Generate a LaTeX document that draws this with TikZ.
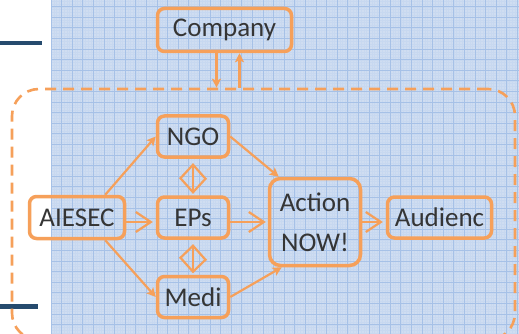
\documentclass[tikz,border=0pt]{standalone}
\usepackage{fontspec}
\setmainfont{Carlito}
\usetikzlibrary{arrows.meta}
\definecolor{paper}{HTML}{CFDDF1}
\definecolor{gridline}{HTML}{A6C1E7}
\definecolor{fineline}{HTML}{C7D8F0}
\definecolor{orangeline}{HTML}{F6A05A}
\definecolor{barblue}{HTML}{264B6E}
\definecolor{ink}{HTML}{353535}
\tikzset{
  box/.style={draw=orangeline, line width=3.5pt, rounded corners=7pt, text=ink,
    font=\fontsize{27}{30}\selectfont, inner sep=0pt, minimum height=41pt},
  link/.style={draw=orangeline, line width=2.2pt, -{Stealth[length=9pt,width=9pt,inset=2pt]}},
  chev/.style={draw=orangeline, line width=2.2pt, -{Straight Barb[length=15pt,width=20pt]}},
  twoway/.style={draw=orangeline, line width=2.2pt, line join=miter},
  field/.style={draw=orangeline, line width=2.6pt, dash pattern=on 11pt off 7pt,
    rounded corners=27pt, inner sep=0pt},
}
\begin{document}
\begin{tikzpicture}[x=1pt,y=-1pt]
	\useasboundingbox (0,0) rectangle (519,334);
	\clip (0,0) rectangle (519,334);
	% squared paper
	\fill[white] (0,0) rectangle (519,334);
	\fill[paper] (51,0) rectangle (519,334);
	\foreach \k in {0,...,186}
		\draw[fineline,line width=0.25pt] (51+\k*2.65,0) -- (51+\k*2.65,334);
	\foreach \k in {0,...,126}
		\draw[fineline,line width=0.25pt] (51,\k*2.65+1.4) -- (519,\k*2.65+1.4);
	\foreach \k in {0,...,44}
		\draw[gridline,line width=0.9pt] (51+\k*10.6,0) -- (51+\k*10.6,334);
	\foreach \k in {0,...,31}
		\draw[gridline,line width=0.9pt] (51,6.7+\k*10.6) -- (519,6.7+\k*10.6);
	% bars on the left
	\fill[barblue] (0,41) rectangle (42,45.5);
	\fill[barblue] (0,304) rectangle (38,308.5);
	% dashed frame
	\node[field, minimum width=503pt, minimum height=251pt] (frame) at (263.5,214.5) {};
	% boxes
	\node[box, minimum width=134pt, minimum height=43pt] (company) at (224.5,30) {Company};
	\node[box, minimum width=71pt] (ngo) at (193,136.5) {NGO};
	\node[box, minimum width=71pt] (eps) at (193,217.5) {EPs};
	\node[box, minimum width=71pt] (medi) at (193,297) {Medi};
	\node[box, minimum width=95pt, minimum height=42pt] (aiesec) at (77,217.5) {AIESEC};
	\node[box, minimum width=91pt, minimum height=87pt, rounded corners=11pt, align=center,
		font=\fontsize{27}{40}\selectfont] (action) at (315,222) {Action\\NOW!};
	\node[box, minimum width=104pt] (audienc) at (439.5,217.5) {Audienc};
	% company and the frame
	\draw[link] ([xshift=-8pt]company.south) -- ([xshift=-8pt]company.south |- frame.north);
	\draw[link] ([xshift=15pt]company.south |- frame.north) -- ([xshift=15pt]company.south);
	% connectors
	\draw[link] ([xshift=-21pt]aiesec.north east) -- (ngo.west);
	\draw[link] ([xshift=-21pt]aiesec.south east) -- (medi.west);
	\draw[chev, shorten >=3pt] (aiesec.east |- action) -- (eps.west |- action);
	\draw[chev, shorten >=2pt] (eps.east |- action) -- (action.west);
	\draw[chev, shorten >=3pt] (action.east) -- (audienc.west |- action);
	\draw[link] (ngo.east) -- ([xshift=11pt]action.north west);
	\draw[link] (medi.east) -- ([xshift=14pt]action.south west);
	% two way links
	\draw[twoway] ([yshift=-6pt]ngo.south) -- ([yshift=3pt]eps.north);
	\draw[twoway] ([yshift=-6pt]ngo.south) -- ++(12.5,14) -- ([yshift=3pt]eps.north) -- ++(-12.5,-14) -- cycle;
	\draw[twoway] ([yshift=-6pt]eps.south) -- ([yshift=3pt]medi.north);
	\draw[twoway] ([yshift=-6pt]eps.south) -- ++(12.5,14) -- ([yshift=3pt]medi.north) -- ++(-12.5,-14) -- cycle;
\end{tikzpicture}
\end{document}
